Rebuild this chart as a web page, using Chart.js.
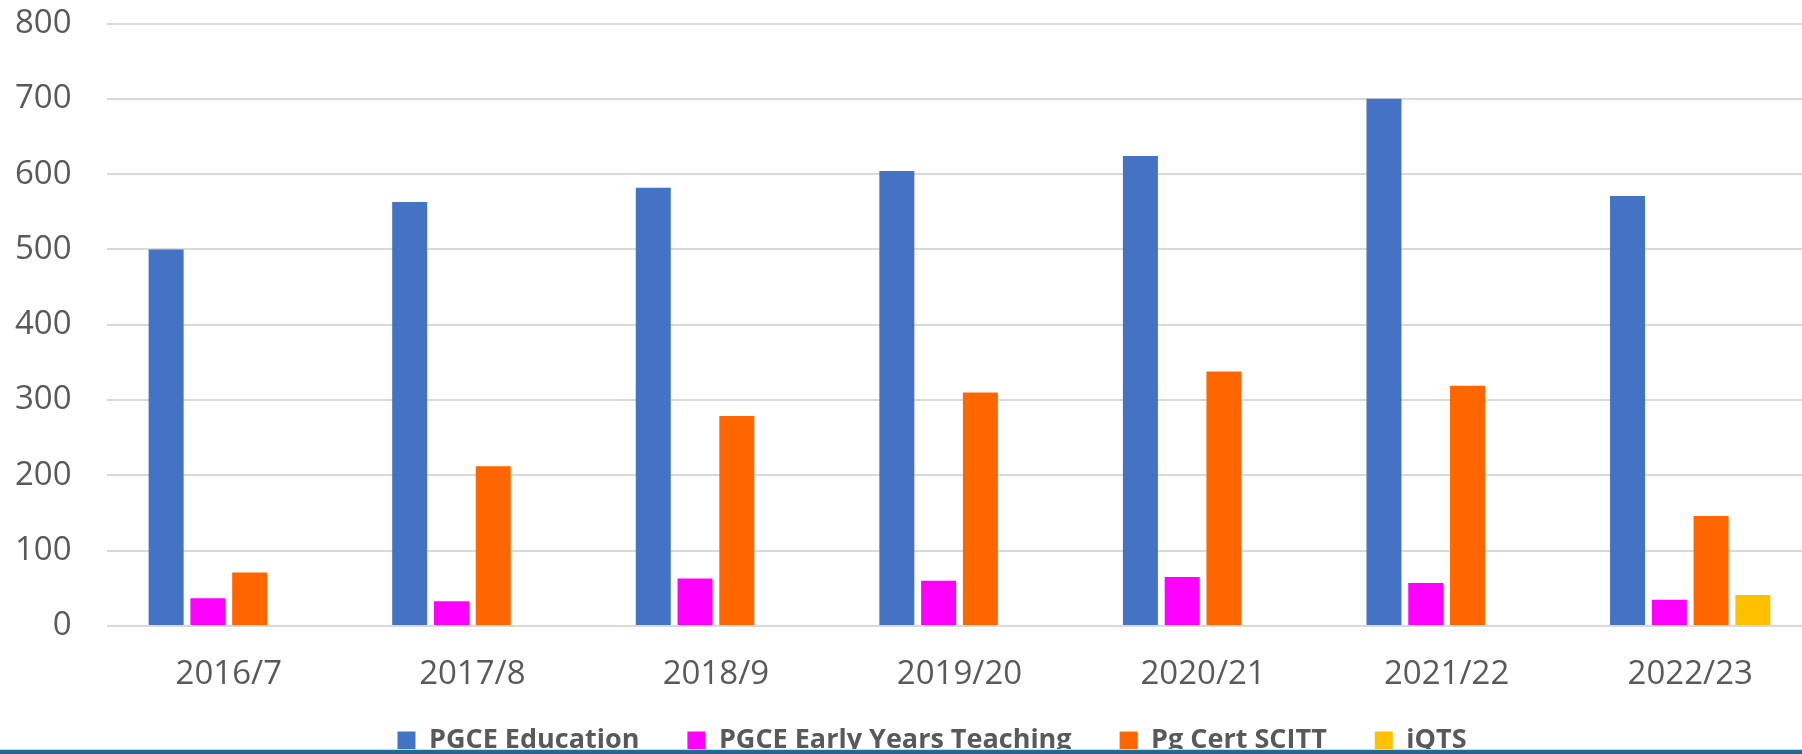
<!DOCTYPE html>
<html>
<head>
<meta charset="utf-8">
<script src="https://cdn.jsdelivr.net/npm/chart.js@4/dist/chart.umd.min.js"></script>
<style>
	html, body { margin: 0; padding: 0; background: #fff; overflow: hidden; }
	#wrap { position: relative; width: 1802px; height: 754px; overflow: hidden; }
	#strip { position: absolute; left: 0; top: 749px; width: 1802px; height: 5px;
		background: linear-gradient(#b6dfea 0, #b6dfea 1px, #1c6f98 1px, #1a6590 5px); }
</style>
</head>
<body>
<div id="wrap">
	<canvas id="chart" width="1812" height="764"></canvas>
	<div id="strip"></div>
</div>
<script>
const years = ['2016/7', '2017/8', '2018/9', '2019/20', '2020/21', '2021/22', '2022/23'];
const pgceEducation = [500, 563, 582, 604, 624, 700, 571];
const pgceEarlyYears = [37, 33, 63, 60, 65, 57, 35];
const pgCertScitt = [71, 212, 279, 310, 338, 319, 146];
const iqts = [null, null, null, null, null, null, 41];

const textGrey = '#595959';
const legendGap = 48;
const padLeft = 52;

new Chart(document.getElementById('chart'), {
	type: 'bar',
	data: {
		labels: years,
		datasets: [
			{label: 'PGCE Education', data: pgceEducation, backgroundColor: '#4472C4'},
			{label: 'PGCE Early Years Teaching', data: pgceEarlyYears, backgroundColor: '#FF00FF'},
			{label: 'Pg Cert SCITT', data: pgCertScitt, backgroundColor: '#FF6600'},
			{label: 'iQTS', data: iqts, backgroundColor: '#FFC000'}
		]
	},
	options: {
		responsive: false,
		animation: false,
		devicePixelRatio: 1,
		categoryPercentage: 0.686,
		barPercentage: 0.838,
		layout: {padding: {top: 23.5, left: padLeft, right: 0, bottom: 0}},
		plugins: {
			tooltip: {enabled: false},
			legend: {
				position: 'bottom',
				labels: {
					boxWidth: 18,
					boxHeight: 18,
					padding: legendGap,
					color: textGrey,
					font: {family: 'Open Sans', size: 27, weight: 'bold'}
				}
			}
		},
		scales: {
			x: {
				grid: {display: false, drawTicks: false},
				border: {display: false},
				ticks: {
					color: textGrey,
					mirror: true,
					padding: -68,
					maxRotation: 0,
					font: {family: 'Open Sans', size: 33}
				},
				afterFit: (scale) => {
					scale.height = 727 - legendGap - 626;
					scale.paddingLeft = 0;
					scale.paddingRight = 0;
				}
			},
			y: {
				min: 0,
				max: 800,
				grid: {color: '#d9d9d9', lineWidth: 2, drawTicks: false},
				border: {display: false},
				ticks: {
					stepSize: 100,
					color: textGrey,
					mirror: true,
					crossAlign: 'far',
					padding: -92,
					font: {family: 'Open Sans', size: 33}
				},
				afterFit: (scale) => {
					scale.width = 107 - padLeft;
					scale.paddingTop = 0;
					scale.paddingBottom = 0;
				}
			}
		}
	}
});
</script>
</body>
</html>
